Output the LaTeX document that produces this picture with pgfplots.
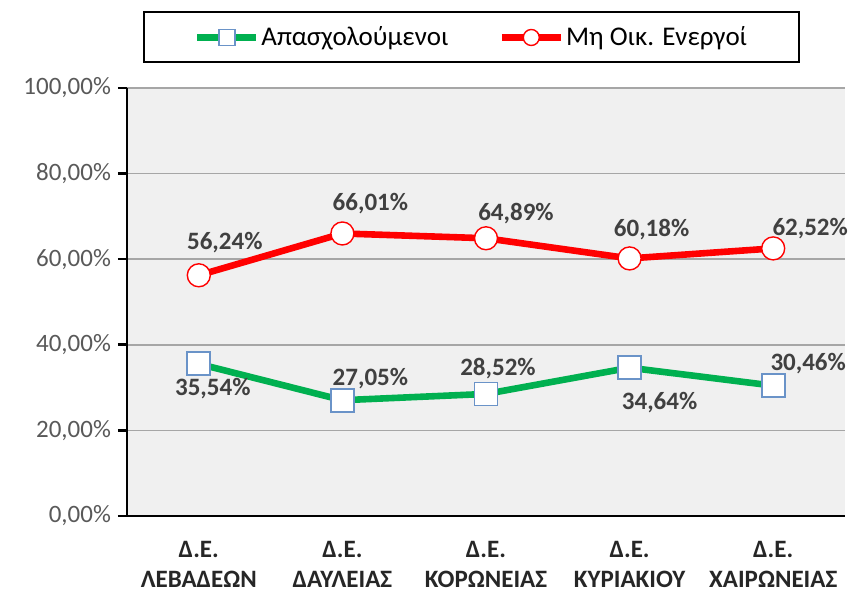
\documentclass[border=0pt]{standalone}
\usepackage{fontspec}
\setmainfont{Carlito}
\usepackage{pgfplots}
\pgfplotsset{compat=1.18}
\usepackage{pgfplotstable}
\definecolor{xgreen}{HTML}{00B050}
\definecolor{xred}{HTML}{FF0000}
\definecolor{xblue}{HTML}{6A93C8}
\definecolor{plotbg}{HTML}{F0F0F0}
\definecolor{gridc}{HTML}{A6A6A6}
\definecolor{lbl}{HTML}{404040}
\definecolor{tkl}{HTML}{595959}

\pgfplotstableread{
x y dx dy
0 35.54 7 -12.5
1 27.05 14 11
2 28.52 6 12.5
3 34.64 15 -17.5
4 30.46 17.5 11
}\greentab

\pgfplotstableread{
x y dx dy
0 56.24 13 16.5
1 66.01 14 15
2 64.89 15 12.5
3 60.18 11 14.5
4 62.52 18.5 10
}\redtab

\begin{document}
\begin{tikzpicture}
\begin{axis}[
  at={(0,0)}, anchor=south west,
  scale only axis, width=359pt, height=214pt,
  xmin=-0.5, xmax=4.5, ymin=0, ymax=100,
  clip=false,
  axis background/.style={fill=plotbg},
  axis x line*=bottom, axis y line*=left,
  axis line style={black, line width=1.3pt},
  tick align=outside,
  ytick={0,20,40,60,80,100},
  ymajorgrids, grid style={gridc, line width=0.8pt},
  ytick style={black, line width=1.3pt},
  major tick length=4.5pt,
  /pgf/number format/assume math mode=true,
  yticklabel={\pgfmathprintnumber[fixed,fixed zerofill,precision=2,use comma]{\tick}\%},
  yticklabel style={font=\fontsize{12.5}{15}\selectfont, text=tkl},
  xtick={0,1,2,3,4},
  xticklabels={{Δ.Ε.\\ΛΕΒΑΔΕΩΝ},{Δ.Ε.\\ΔΑΥΛΕΙΑΣ},{Δ.Ε.\\ΚΟΡΩΝΕΙΑΣ},{Δ.Ε.\\ΚΥΡΙΑΚΙΟΥ},{Δ.Ε.\\ΧΑΙΡΩΝΕΙΑΣ}},
  xticklabel style={align=center, font=\bfseries\fontsize{12.5}{15}\selectfont, text=black!85, yshift=-4.5pt},
  xtick style={draw=none},
  extra x ticks={-0.5,0.5,1.5,2.5,3.5,4.5},
  extra x tick labels={},
  extra x tick style={grid=none, tick style={draw=black, line width=1.3pt}},
  legend style={at={(rel axis cs:0.4798,1.118)}, anchor=center, draw=black, line width=1pt,
    fill=white, inner xsep=25pt, inner ysep=5pt,
    font=\fontsize{13.5}{15}\selectfont, text=black,
    nodes={inner xsep=1pt, inner ysep=2pt},
    /tikz/every even column/.append style={column sep=24pt}},
  legend columns=2,
  legend image code/.code={\draw[mark repeat=2,mark phase=2,mark size=4pt] plot coordinates {(0pt,0pt)(14.75pt,0pt)(29.5pt,0pt)};},
]
\addplot[xgreen, line width=3.3pt, mark=square*, mark size=5.75pt,
  mark options={fill=white, draw=xblue, line width=0.9pt},
  nodes near coords={\pgfmathprintnumber[fixed,fixed zerofill,precision=2,use comma]{\pgfplotspointmeta}\%},
  visualization depends on={\thisrow{dx}\as\dx},
  visualization depends on={\thisrow{dy}\as\dy},
  nodes near coords style={anchor=center, xshift=\dx pt, yshift=\dy pt,
    font=\bfseries\fontsize{12.5}{15}\selectfont, text=lbl}
] table[x=x,y=y]{\greentab};
\addlegendentry{Απασχολούμενοι}
\addplot[xred, line width=3.3pt, mark=*, mark size=5.75pt,
  mark options={fill=white, draw=xred, line width=0.7pt},
  nodes near coords={\pgfmathprintnumber[fixed,fixed zerofill,precision=2,use comma]{\pgfplotspointmeta}\%},
  visualization depends on={\thisrow{dx}\as\dx},
  visualization depends on={\thisrow{dy}\as\dy},
  nodes near coords style={anchor=center, xshift=\dx pt, yshift=\dy pt,
    font=\bfseries\fontsize{12.5}{15}\selectfont, text=lbl}
] table[x=x,y=y]{\redtab};
\addlegendentry{Μη Οικ. Ενεργοί}
\end{axis}
\pgfresetboundingbox
\useasboundingbox (-63.5pt,-38.5pt) rectangle (361.5pt,258pt);
\end{tikzpicture}
\end{document}
